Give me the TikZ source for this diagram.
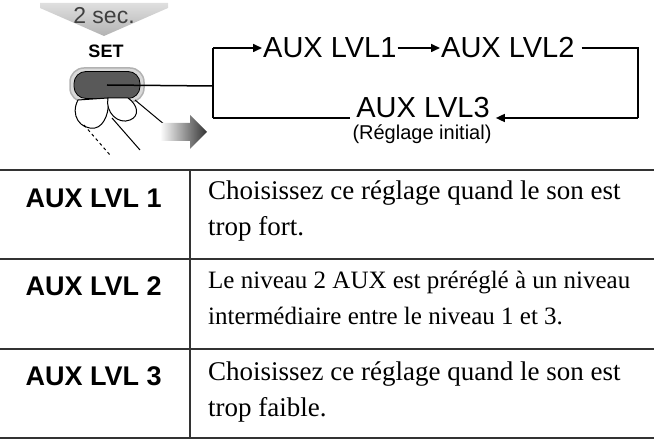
\documentclass[tikz,border=0pt]{standalone}
\usepackage{fontspec}
\setmainfont{Liberation Serif}
\setsansfont{Liberation Sans}
\usetikzlibrary{arrows.meta}
\begin{document}
\begin{tikzpicture}[x=1pt,y=-1pt,
  lab/.style={font=\sffamily\bfseries\fontsize{27}{30}\selectfont,anchor=west},
  body/.style={font=\fontsize{27}{36}\selectfont,anchor=north west,align=left,inner sep=0},
  flow/.style={font=\sffamily\fontsize{29}{30}\selectfont},
  conn/.style={line width=1.6pt,-{Triangle[length=9pt,width=8pt]}},
  rule/.style={line width=2pt,black!80}]
\useasboundingbox (0,0) rectangle (654,443);
% 2 sec arrow
\shade[top color=gray!25,bottom color=gray!60] (40,3) -- (168,3) -- (168,8) -- (104,36) -- (40,8) -- cycle;
\node[font=\sffamily\fontsize{23}{24}\selectfont,text=black!75] (sec) at (104,16) {2 sec.};
\node[font=\sffamily\bfseries\fontsize{18}{20}\selectfont] (set) at (106,51) {SET};
% button
\draw[line width=1.5pt,gray!60,fill=gray!30,rounded corners=14pt] (70,68) rectangle (144,102);
\node[draw=black,line width=0.8pt,fill=black!65,rounded corners=12pt,minimum width=66pt,minimum height=27pt,inner sep=0] (btn) at (107,85) {};
% fingers
\draw[line width=1pt,fill=white] (78,100) .. controls (70,115) and (80,130) .. (95,128) .. controls (105,126) and (110,110) .. (108,98) -- cycle;
\draw[line width=1pt,fill=white] (108,98) .. controls (105,112) and (118,125) .. (130,120) .. controls (140,116) and (138,105) .. (128,98) -- cycle;
\draw[line width=1pt] (112,118) -- (140,150);
\draw[line width=1pt] (135,100) -- (165,125);
\draw[line width=1pt,dashed] (84,125) -- (110,155);
% gradient arrow
\shade[left color=white,right color=black!80] (160,123) -- (190,123) -- (190,115) -- (207,132) -- (190,149) -- (190,141) -- (160,141) -- cycle;
% flow
\node[flow,anchor=west,inner sep=1pt] (l1) at (262,48) {AUX LVL1};
\node[flow,anchor=west,inner sep=1pt] (l2) at (440,48) {AUX LVL2};
\node[flow,inner sep=1pt] (l3) at (423,108) {AUX LVL3};
\node[font=\sffamily\fontsize{20}{22}\selectfont] (init) at (422,134) {(Réglage initial)};
\coordinate (c1) at (213,86);
\coordinate (c2) at (213,48);
\coordinate (c3) at (213,118);
\coordinate (r1) at (638,48);
\coordinate (r2) at (638,118);
\draw[line width=1.5pt] (btn.center) -- (c1);
\draw[line width=1.6pt] (c3) -- (c2);
\draw[conn] (c2) -- (l1.west);
\draw[conn] (l1.east) -- (l2.west);
\draw[line width=1.6pt] ([xshift=6pt]l2.east) -- (r1) -- (r2);
\draw[conn] (r2) -- ([xshift=5pt]l3.east |- r2) ;
\draw[line width=1.6pt] (c3) -- ([xshift=-5pt]l3.west |- c3);
% table
\draw[rule] (0,170) -- (654,170);
\draw[rule] (0,259) -- (654,259);
\draw[rule] (0,349) -- (654,349);
\draw[rule] (0,438) -- (654,438);
\draw[line width=1.2pt,black!80] (190,170) -- (190,438);
\node[lab] (a1) at (22,198) {AUX LVL 1};
\node[lab] (a2) at (22,286) {AUX LVL 2};
\node[lab] (a3) at (22,376) {AUX LVL 3};
\node[body] (b1) at (208,181) {Choisissez ce réglage quand le son est\\trop fort.};
\node[body,font=\fontsize{25}{36}\selectfont] (b2) at (208,271) {Le niveau 2 AUX est préréglé à un niveau\\intermédiaire entre le niveau 1 et 3.};
\node[body] (b3) at (208,362) {Choisissez ce réglage quand le son est\\trop faible.};
\end{tikzpicture}
\end{document}
